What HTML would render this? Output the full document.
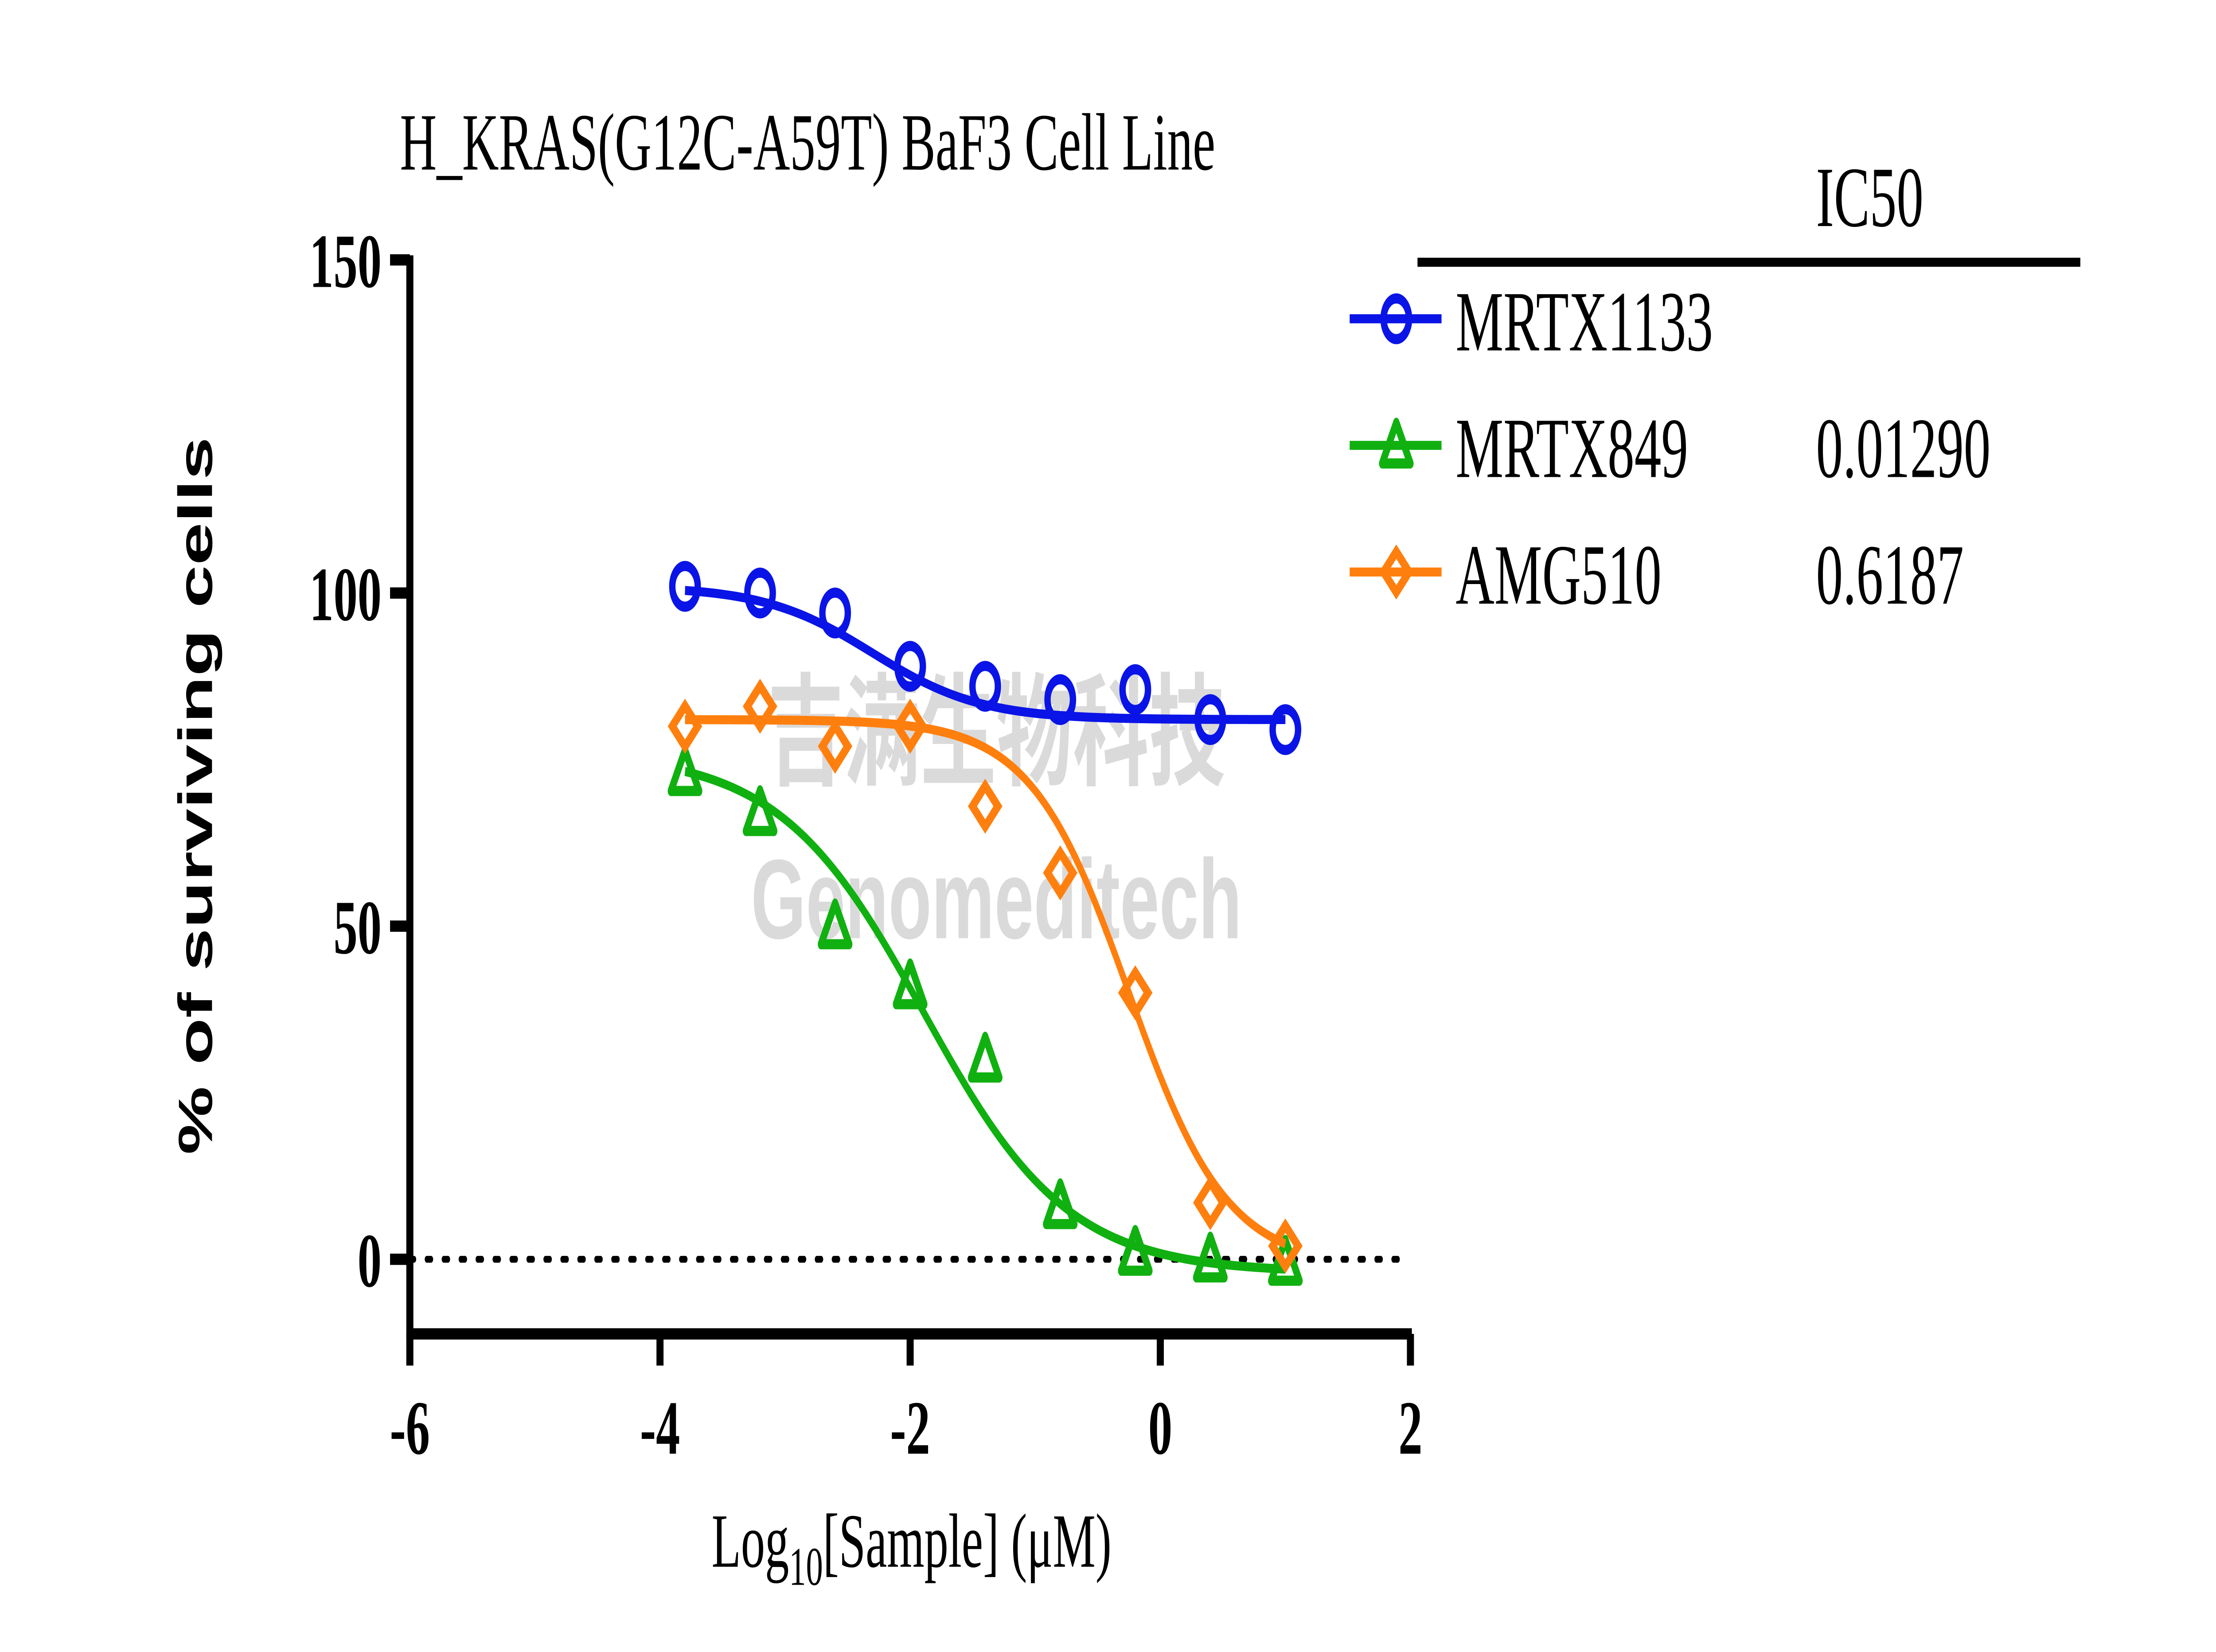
<!DOCTYPE html>
<html><head><meta charset="utf-8"><style>html,body{margin:0;padding:0;background:#fff;width:100%;height:100%;overflow:hidden}svg{display:block;position:absolute;left:0;top:0;width:100vw;height:100vh}</style></head>
<body>
<svg id="chart" xmlns="http://www.w3.org/2000/svg" viewBox="0 0 1568 730.7" preserveAspectRatio="none">
<rect width="1568" height="730.7" fill="#fff"/>
<g opacity="0.3">
<text x="705" y="415" font-family="Liberation Sans, sans-serif" font-weight="bold" font-size="50" fill="#888" text-anchor="middle">Genomeditech</text>
<text x="705" y="343" font-family="Liberation Sans, 'Noto Sans CJK SC', sans-serif" font-weight="bold" font-size="54" fill="#888" text-anchor="middle">吉满生物科技</text>
</g>
<text x="283" y="75" font-family="Liberation Serif, serif" font-size="36">H_KRAS(G12C-A59T) BaF3 Cell Line</text>
<text transform="translate(150,352) rotate(-90)" text-anchor="middle" font-family="Liberation Sans, sans-serif" font-weight="bold" font-size="34">% of surviving cells</text>
<text x="645" y="693" text-anchor="middle" font-family="Liberation Serif, serif" font-size="34">Log<tspan font-size="24" dy="8">10</tspan><tspan dy="-8">[Sample] (μM)</tspan></text>
<g id="axes"></g>
<g id="series"></g>
<g id="legend"></g>
</svg>
<script>
const xDoses = [-3.8, -3.2, -2.6, -2.0, -1.4, -0.8, -0.2, 0.4, 1.0];
const mrtx1133 = [101, 100, 97, 89, 86, 84, 85.5, 81, 79.5];
const mrtx849 = [73, 67, 50, 41, 30, 8, 1, 0, -0.5];
const amg510 = [80, 83, 77, 80, 68, 58, 40, 8.5, 2];
const seriesNames = ['MRTX1133', 'MRTX849', 'AMG510'];
const ic50Labels = ['', '0.01290', '0.6187'];
const fitTop = [101, 76, 81];
const fitBottom = [81, -2, -1];
const fitLogIC50 = [-2.3, -1.89, -0.25];
const fitHill = [1.0, 0.75, 1.1];
const xTicks = [-6, -4, -2, 0, 2];
const yTicks = [0, 50, 100, 150];

const NS = 'http://www.w3.org/2000/svg';
const X = v => 290 + (v + 6) * 88.5;
const Y = v => 557 - v * 2.947;
function mk(tag, attrs, parent) {
  const e = document.createElementNS(NS, tag);
  for (const k in attrs) e.setAttribute(k, attrs[k]);
  parent.appendChild(e); return e;
}
const axes = document.getElementById('axes');
const yl = mk('line', {x1: 290, y1: Y(150) - 2, x2: 290, y2: 592, stroke: '#000', 'stroke-width': 5}, axes);


const xl = mk('line', {x1: 288, y1: 590, x2: 999, y2: 590, stroke: '#000', 'stroke-width': 5}, axes);


const zl = mk('line', {x1: 290, y1: Y(0), x2: 998, y2: Y(0), stroke: '#000', 'stroke-width': 3, 'stroke-dasharray': '3 9', 'stroke-linecap': 'round'}, axes);


yTicks.forEach(t => {
  mk('line', {x1: 276, y1: Y(t), x2: 290, y2: Y(t), stroke: '#000', 'stroke-width': 5}, axes);
  const tx = mk('text', {x: 270, y: Y(t) + 12, 'text-anchor': 'end', 'font-family': 'Liberation Serif, serif', 'font-weight': 'bold', 'font-size': 34}, axes);
  tx.textContent = t;
  
  
});
xTicks.forEach(t => {
  mk('line', {x1: X(t), y1: 590, x2: X(t), y2: 604, stroke: '#000', 'stroke-width': 5}, axes);
  const tx = mk('text', {x: X(t), y: 643, 'text-anchor': 'middle', 'font-family': 'Liberation Serif, serif', 'font-weight': 'bold', 'font-size': 34}, axes);
  tx.textContent = t;
  
  
});
const colors = ['#0a14e6', '#10b010', '#ff7f0e'];
const datasets = [mrtx1133, mrtx849, amg510];
const ser = document.getElementById('series');
function marker(shape, cx, cy, col, g) {
  if (shape === 0) return mk('circle', {cx, cy, r: 9, fill: 'none', stroke: col, 'stroke-width': 4.5}, g);
  if (shape === 1) return mk('polygon', {points: `${cx},${cy-10} ${cx+10},${cy+8} ${cx-10},${cy+8}`, fill: 'none', stroke: col, 'stroke-width': 4.5, 'stroke-linejoin': 'round'}, g);
  return mk('polygon', {points: `${cx},${cy-9} ${cx+9},${cy} ${cx},${cy+9} ${cx-9},${cy}`, fill: 'none', stroke: col, 'stroke-width': 4.5}, g);
}
datasets.forEach((d, i) => {
  const g = mk('g', {}, ser);
  
  
  let p = '';
  for (let k = 0; k <= 120; k++) {
    const lx = xDoses[0] + (xDoses[xDoses.length - 1] - xDoses[0]) * k / 120;
    const v = fitBottom[i] + (fitTop[i] - fitBottom[i]) / (1 + Math.pow(10, fitHill[i] * (lx - fitLogIC50[i])));
    p += (k ? 'L' : 'M') + X(lx).toFixed(2) + ',' + Y(v).toFixed(2);
  }
  const c = mk('path', {d: p, fill: 'none', stroke: colors[i], 'stroke-width': 4}, g);
  
  
  d.forEach((v, j) => {
    const m = marker(i, X(xDoses[j]), Y(v), colors[i], g);
    
    
  });
});
const lg = document.getElementById('legend');
mk('line', {x1: 1003, y1: 116, x2: 1472, y2: 116, stroke: '#000', 'stroke-width': 4}, lg);
const hd = mk('text', {x: 1285, y: 100, 'font-family': 'Liberation Serif, serif', 'font-size': 38}, lg);
hd.textContent = 'IC50';


seriesNames.forEach((n, i) => {
  const y = 141 + i * 56;
  const g = mk('g', {}, lg);
  
  
  mk('line', {x1: 955, y1: y, x2: 1020, y2: y, stroke: colors[i], 'stroke-width': 4}, g);
  marker(i, 988, y, colors[i], g);
  const t = mk('text', {x: 1030, y: y + 14, 'font-family': 'Liberation Serif, serif', 'font-size': 38}, g);
  t.textContent = n;
  const v = mk('text', {x: 1285, y: y + 14, 'font-family': 'Liberation Serif, serif', 'font-size': 38}, g);
  v.textContent = ic50Labels[i];
});
</script>
</body></html>
